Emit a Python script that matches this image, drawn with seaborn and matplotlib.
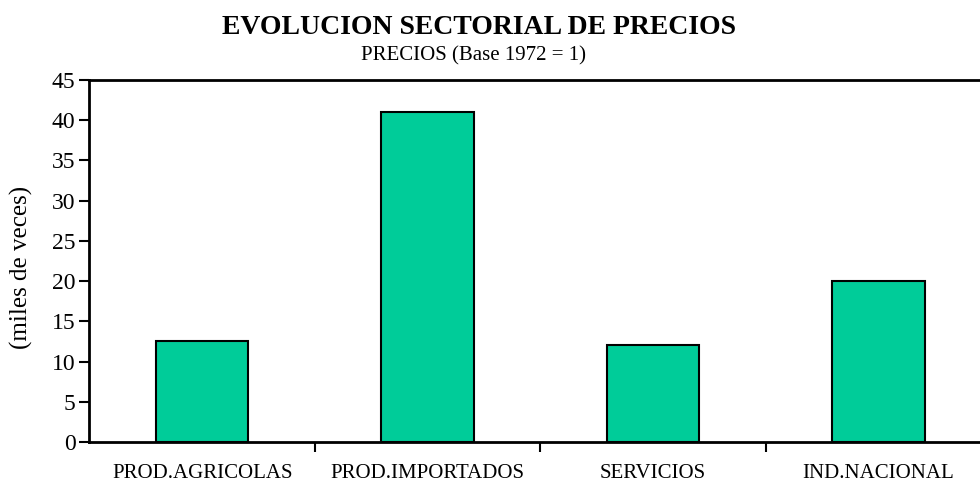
import numpy as np
import seaborn as sns
import matplotlib.pyplot as plt
import pandas as pd
from matplotlib.ticker import FixedLocator

sectores = ["PROD.AGRICOLAS", "PROD.IMPORTADOS", "SERVICIOS", "IND.NACIONAL"]
precios = [12.5, 41, 12, 20]

df = pd.DataFrame({"sector": sectores, "precio": precios})

sns.set_style("white")
plt.rcParams['font.family'] = ['Liberation Serif', 'DejaVu Serif']
plt.rcParams['text.color'] = 'black'
plt.rcParams['xtick.color'] = 'black'
plt.rcParams['ytick.color'] = 'black'
plt.rcParams['axes.labelcolor'] = 'black'

fig = plt.figure(figsize=(9.8, 4.83), dpi=100)
ax = fig.add_axes([0.0913, 0.0849, 0.92, 0.7495])

sns.barplot(data=df, x="sector", y="precio", color="#00CC99", saturation=1,
            width=0.41, edgecolor="black", linewidth=1.5, ax=ax)

ax.set_ylim(0, 45)
ax.set_xlim(-0.5, len(sectores) - 0.5)
ax.set_yticks(np.arange(0, 46, 5))
ax.tick_params(axis="y", direction="out", length=7, width=1.5, labelsize=17, pad=3, left=True)
ax.tick_params(axis="x", which="major", length=0, labelsize=15, pad=16)
ax.xaxis.set_minor_locator(FixedLocator([0.5, 1.5, 2.5]))
ax.tick_params(axis="x", which="minor", direction="out", length=7, width=1.5, bottom=True)

for side in ["left", "bottom", "top"]:
    ax.spines[side].set_visible(True)
    ax.spines[side].set_linewidth(2)
    ax.spines[side].set_color("black")
ax.spines["right"].set_visible(False)

ax.set_xlabel("")
ax.set_ylabel("(miles de veces)", fontsize=18)
ax.yaxis.set_label_coords(-0.063, 0.483)

fig.text(0.489, 1 - 28 / 483, "EVOLUCION SECTORIAL DE PRECIOS", ha="center", va="center",
         fontsize=20, fontweight="bold")
fig.text(0.4827, 1 - 56 / 483, "PRECIOS (Base 1972 = 1)", ha="center", va="center", fontsize=15)

fig.savefig("out.png", dpi=100)
